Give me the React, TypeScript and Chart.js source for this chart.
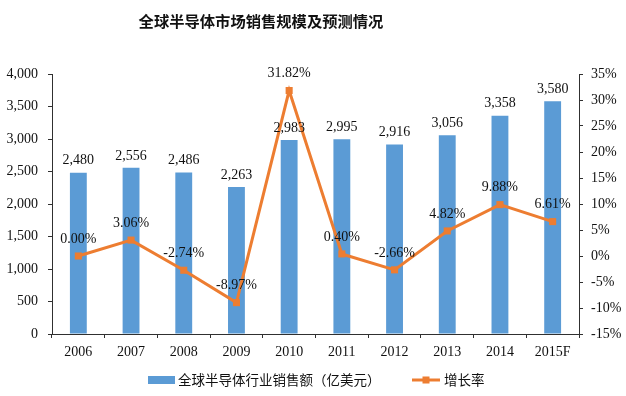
import React, { useEffect, useRef } from "react";
import { Chart, registerables } from "chart.js";

Chart.register(...registerables);

const TITLE = "全球半导体市场销售规模及预测情况";
const categories = ["2006", "2007", "2008", "2009", "2010", "2011", "2012", "2013", "2014", "2015F"];
const salesLabel = "全球半导体行业销售额（亿美元）";
const sales = [2480, 2556, 2486, 2263, 2983, 2995, 2916, 3056, 3358, 3580];
const growthLabel = "增长率";
const growth = [0.0, 3.06, -2.74, -8.97, 31.82, 0.4, -2.66, 4.82, 9.88, 6.61];

const BAR_COLOR = "#5B9BD5";
const LINE_COLOR = "#ED7D31";
const TEXT_COLOR = "#111111";
const AXIS_COLOR = "#303030";
const SERIF = "'Liberation Serif', 'Times New Roman', serif";
const CJK = "'Noto Sans CJK SC', sans-serif";

const fmtThousands = (v: number) => v.toLocaleString("en-US");

const extrasPlugin = {
  id: "extras",
  afterDatasetsDraw(chart: any) {
    const ctx = chart.ctx;
    ctx.save();
    // bar labels
    const barMeta = chart.getDatasetMeta(1);
    ctx.font = `14px ${SERIF}`;
    ctx.fillStyle = TEXT_COLOR;
    ctx.textAlign = "center";
    ctx.textBaseline = "bottom";
    barMeta.data.forEach((el: any, i: number) => {
      ctx.fillText(fmtThousands(sales[i]), el.x, el.y - 5);
    });
    // line labels
    const lineMeta = chart.getDatasetMeta(0);
    ctx.textBaseline = "middle";
    lineMeta.data.forEach((el: any, i: number) => {
      ctx.fillText(growth[i].toFixed(2) + "%", el.x, el.y - 17);
    });
    // title
    ctx.font = `bold 15.3px ${CJK}`;
    ctx.fillStyle = "#111";
    ctx.textBaseline = "middle";
    ctx.fillText(TITLE, 261, 21);
    // legend
    const ly = 380;
    ctx.fillStyle = BAR_COLOR;
    ctx.fillRect(148, ly - 4, 27, 8);
    ctx.font = `13.5px ${CJK}`;
    ctx.fillStyle = TEXT_COLOR;
    ctx.textAlign = "left";
    ctx.fillText(salesLabel, 178, ly);
    ctx.strokeStyle = LINE_COLOR;
    ctx.lineWidth = 3;
    ctx.beginPath();
    ctx.moveTo(412, ly);
    ctx.lineTo(440, ly);
    ctx.stroke();
    ctx.fillStyle = LINE_COLOR;
    ctx.fillRect(422.5, ly - 3.5, 7, 7);
    ctx.fillStyle = TEXT_COLOR;
    ctx.fillText(growthLabel, 444, ly);
    ctx.restore();
  },
};

export default function App() {
  const ref = useRef<HTMLCanvasElement>(null);
  useEffect(() => {
    if (!ref.current) return;
    const chart = new Chart(ref.current, {
      type: "bar",
      data: {
        labels: categories,
        datasets: [
          {
            type: "line",
            label: growthLabel,
            data: growth,
            yAxisID: "y1",
            borderColor: LINE_COLOR,
            backgroundColor: LINE_COLOR,
            borderWidth: 3,
            pointStyle: "rect",
            pointRadius: 5,
            pointBorderWidth: 0,
            tension: 0,
            order: 0,
          } as any,
          {
            type: "bar",
            label: salesLabel,
            data: sales,
            yAxisID: "y",
            backgroundColor: BAR_COLOR,
            barPercentage: 0.32,
            categoryPercentage: 1,
            order: 1,
          },
        ],
      },
      options: {
        responsive: false,
        animation: false,
        layout: { padding: { top: 74, left: 0, right: 0, bottom: 0 } },
        plugins: { legend: { display: false }, title: { display: false }, tooltip: { enabled: false } },
        scales: {
          x: {
            offset: true,
            grid: { display: true, drawOnChartArea: false, offset: true, tickLength: 4, color: AXIS_COLOR },
            border: { display: true, color: AXIS_COLOR, width: 1 },
            ticks: { font: { family: SERIF, size: 14 }, color: TEXT_COLOR, padding: 6, maxRotation: 0 },
            afterFit: (s: any) => { s.height = 62; },
          },
          y: {
            position: "left",
            min: 0,
            max: 4000,
            grid: { display: true, drawOnChartArea: false, tickLength: 4, color: AXIS_COLOR },
            border: { display: true, color: AXIS_COLOR, width: 1 },
            ticks: {
              stepSize: 500,
              font: { family: SERIF, size: 14 },
              color: TEXT_COLOR,
              padding: 10,
              callback: (v: any) => fmtThousands(Number(v)),
            },
            afterFit: (s: any) => { s.width = 52; },
          },
          y1: {
            position: "right",
            min: -15,
            max: 35,
            grid: { display: true, drawOnChartArea: false, tickLength: 4, color: AXIS_COLOR },
            border: { display: true, color: AXIS_COLOR, width: 1 },
            ticks: {
              stepSize: 5,
              font: { family: SERIF, size: 14 },
              color: TEXT_COLOR,
              padding: 8,
              callback: (v: any) => `${v}%`,
            },
            afterFit: (s: any) => { s.width = 47; },
          },
        },
      },
      plugins: [extrasPlugin],
    });
    return () => chart.destroy();
  }, []);
  return (
    <div style={{ position: "fixed", left: 0, top: 0, width: 626, height: 396, background: "#fff" }}>
      <canvas ref={ref} width={626} height={396} />
    </div>
  );
}
